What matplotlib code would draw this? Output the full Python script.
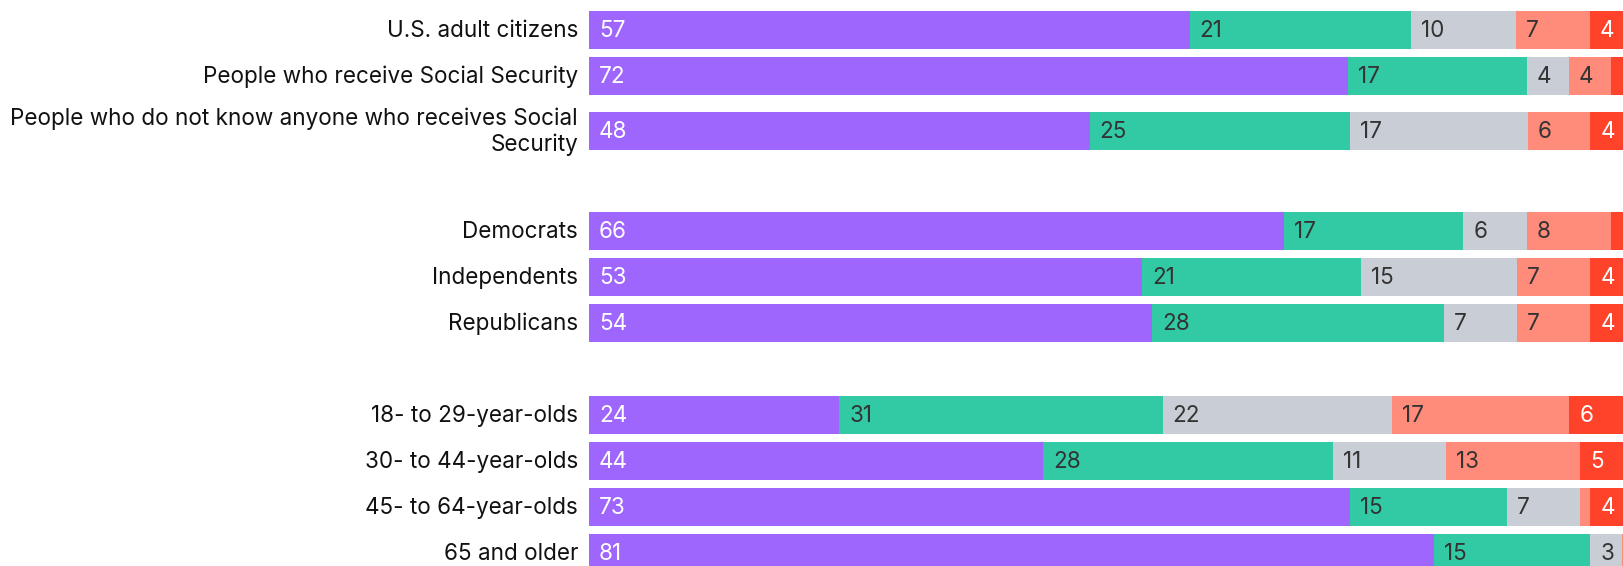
import matplotlib
matplotlib.use("Agg")
import matplotlib.pyplot as plt
import numpy as np

# ---- data ----
categories = [
    "U.S. adult citizens",
    "People who receive Social Security",
    "People who do not know anyone who receives Social\nSecurity",
    "Democrats",
    "Independents",
    "Republicans",
    "18- to 29-year-olds",
    "30- to 44-year-olds",
    "45- to 64-year-olds",
    "65 and older",
]
group_id = [0, 0, 0, 1, 1, 1, 2, 2, 2, 2]

series_1 = [57, 72, 48, 66, 53, 54, 24, 44, 73, 81]   # purple
series_2 = [21, 17, 25, 17, 21, 28, 31, 28, 15, 15]   # green
series_3 = [10, 4, 17, 6, 15, 7, 22, 11, 7, 3]        # gray
series_4 = [7, 4, 6, 8, 7, 7, 17, 13, 1, 1]           # light red
series_5 = [4, 2, 4, 2, 4, 4, 6, 5, 4, 0]             # dark red

colors = ["#9E66FC", "#32C9A5", "#C9CED6", "#FF8B7B", "#FF422A"]
text_colors = ["white", "#333333", "#333333", "#333333", "white"]

# ---- layout (pixels) ----
W, H = 1623, 566
fig = plt.figure(figsize=(W / 100, H / 100), dpi=100)
ax = fig.add_axes([0, 0, 1, 1])
plt.rcParams["font.family"] = ["Inter", "DejaVu Sans"]

bar_left_px = 589
px_per_unit = 10.43
row_h = 46
extra_two_line = 17
bar_h = 38
fs = 16.2

# compute row centers
centers = []
y = 7.0
prev_g = group_id[0]
for cat, g in zip(categories, group_id):
    if g != prev_g:
        y += row_h
        prev_g = g
    h = row_h + (extra_two_line if "\n" in cat else 0)
    centers.append(y + h / 2)
    y += h
centers = np.array(centers)

ax.set_xlim(-bar_left_px / px_per_unit, (W - bar_left_px) / px_per_unit)
ax.set_ylim(H, 0)
ax.axis("off")

data = np.array([series_1, series_2, series_3, series_4, series_5], dtype=float)
totals = data.sum(axis=0)
shares = data / totals * 100

left = np.zeros(len(categories))
for i in range(5):
    ax.barh(centers, shares[i], left=left, height=bar_h, color=colors[i],
            edgecolor="none", linewidth=0)
    for j in range(len(categories)):
        v = data[i, j]
        if v >= 3:
            ax.text(left[j] + 10 / px_per_unit, centers[j] + 1, f"{int(v)}",
                    ha="left", va="center", fontsize=fs,
                    color=text_colors[i])
    left += shares[i]

label_x = -(bar_left_px - 578) / px_per_unit
for cat, c in zip(categories, centers):
    ax.text(label_x, c + 1, cat, ha="right", va="center", fontsize=fs,
            color="#111111", linespacing=1.2)

fig.savefig("out.png", dpi=100, facecolor="white")
